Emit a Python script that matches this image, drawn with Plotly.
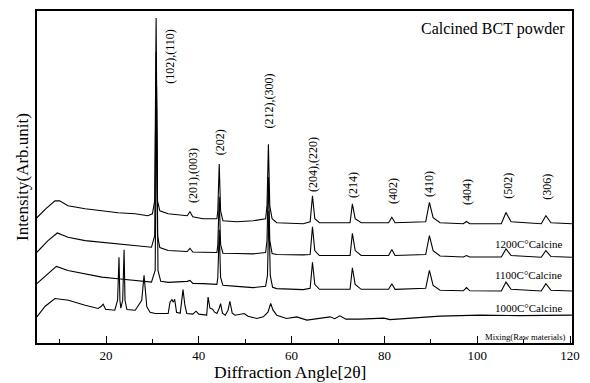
import plotly.graph_objects as go

# ---- data (2θ in degrees, intensity in arbitrary units) ----
top_x = [5.1, 7.0, 9.0, 10.0, 11.8, 15.5, 19.1, 22.6, 26.3, 29.0, 30.0, 30.5, 30.8, 31.1, 31.6, 33.4,
         37.5, 38.1, 38.7, 40.9, 43.9, 44.1, 44.4, 44.7, 45.2, 48.2, 51.7, 54.4, 54.7, 55.0, 55.3, 55.8,
         56.8, 62.5, 64.0, 64.5, 65.0, 66.0, 72.6, 73.1, 73.7, 75.0, 80.9, 81.6, 82.3, 88.9, 89.7, 90.5,
         92.0, 97.0, 97.7, 98.4, 105.2, 106.2, 107.3, 113.8, 114.8, 115.9, 120.4]
top_y = [126, 135, 143, 143, 138, 135, 133, 131, 130, 128, 130, 143, 327, 143, 133, 130,
         128, 132, 127, 125, 125, 133, 180, 133, 123, 122, 123, 125, 138, 200, 138, 125,
         121, 120, 122, 148, 125, 121, 121, 140, 125, 121, 121, 126.5, 121, 122, 141.5, 126,
         121, 120, 122.3, 120, 120, 131.3, 122, 120, 128, 121, 120]

c1200_x = [5.1, 7.5, 9.5, 11.8, 15.5, 19.1, 22.6, 26.3, 29.8, 30.5, 30.8, 31.1, 31.6, 33.4,
           37.5, 38.1, 38.7, 40.9, 43.9, 44.1, 44.4, 44.7, 45.2, 48.2, 51.7, 54.4, 54.7, 55.0, 55.3, 55.8,
           56.8, 62.5, 64.0, 64.5, 65.0, 66.0, 72.6, 73.1, 73.7, 75.0, 80.9, 81.6, 82.3, 88.9, 89.7, 90.5,
           92.0, 97.0, 97.7, 98.4, 105.2, 106.2, 107.3, 113.8, 114.8, 115.9, 120.4]
c1200_y = [91.3, 103, 110.7, 106.3, 103, 101.3, 99.7, 98, 96.3, 108, 293, 108, 96, 93,
           92, 95.3, 91.5, 91.3, 91, 99, 147, 99, 90.3, 90, 89.7, 91, 103, 167, 103, 90,
           89, 88.7, 89, 117, 93, 88, 88, 110.3, 93, 88, 88, 94, 88, 89, 108, 93,
           87.5, 86.5, 88, 86.5, 86.5, 94.7, 88, 86.3, 93, 87, 86.3]

c1100_x = [5.1, 7.5, 9.3, 11.8, 15.5, 19.1, 22.6, 26.3, 29.8, 30.6, 30.9, 31.2, 31.8, 33.4,
           37.5, 38.1, 38.7, 40.9, 43.9, 44.1, 44.4, 44.7, 45.2, 48.2, 51.7, 54.4, 54.8, 55.1, 55.4, 55.9,
           56.8, 62.5, 64.0, 64.5, 65.0, 66.0, 72.6, 73.1, 73.7, 75.0, 80.9, 81.6, 82.3, 88.9, 89.7, 90.5,
           92.0, 97.0, 97.7, 98.4, 105.2, 106.2, 107.3, 113.8, 114.8, 115.9, 120.4]
c1100_y = [59.7, 70, 77, 73, 69.7, 66.3, 64.7, 63, 61.3, 73, 258, 73, 62, 61,
           62, 63, 60, 59.7, 59, 66, 114, 66, 58, 57, 55.7, 57, 68, 133, 68, 56,
           54.7, 53.7, 55, 81.3, 59, 54, 54, 75.7, 59, 54, 54, 59.7, 54, 55, 73, 58,
           53, 52.5, 55.7, 52.5, 52.3, 61.3, 54, 52.3, 59.7, 53, 52.3]

raw_x = [5.1, 6.9, 9.0, 11.9, 15.5, 18.3, 19.0, 19.4, 19.9, 21.9, 22.5, 22.8, 23.0, 23.2, 23.6, 23.9,
         24.1, 24.5, 26.3, 27.7, 28.2, 28.4, 28.8, 29.5, 30.6, 33.4, 33.8, 34.2, 34.5, 34.8, 35.2,
         36.0, 36.3, 36.6, 37.0, 37.4, 38.7, 39.4, 40.0, 41.7, 42.0, 42.4, 42.7, 43.0, 43.4, 43.9,
         44.4, 44.7, 45.1, 45.7, 46.3, 46.7, 47.2, 47.8, 49.8, 50.6, 52.5, 53.9, 54.9, 55.5, 56.0,
         56.8, 58.9, 61.1, 63.3, 66.1, 68.3, 69.3, 70.4, 71.7, 74.7, 79.9, 81.2, 92.0, 100.6, 109.2, 120.4]
raw_y = [26.3, 37, 44.7, 43, 38, 34.7, 37, 39, 34, 33, 43, 86.3, 43, 35, 43, 93.7,
         43, 33.7, 33, 43, 68, 58, 36.3, 31, 29.7, 29.7, 41, 43.7, 41, 44, 31,
         30, 43, 53.7, 38, 29.7, 29, 32, 29, 28, 46.3, 35, 34.5, 34, 31, 29.7,
         35, 39.7, 30, 28, 33, 42, 30, 28, 29.7, 27, 24.7, 26.3, 31, 39.7, 33,
         28, 24.7, 26.3, 23, 24.5, 26.3, 24.5, 27.3, 24, 24, 25, 23.5, 27, 28, 27.5, 28]

series = [(top_x, top_y), (c1200_x, c1200_y), (c1100_x, c1100_y), (raw_x, raw_y)]

hkl_labels = ["(102),(110)", "(201),(003)", "(202)", "(212),(300)", "(204),(220)", "(214)",
              "(402)", "(410)", "(404)", "(502)", "(306)"]
hkl_angles = [33.8, 38.75, 44.57, 55.13, 64.6, 73.23, 81.85, 89.6, 97.8, 106.6, 115.0]
hkl_levels = [288, 168, 202, 243, 180, 159, 153, 160, 152, 158, 157]

curve_labels = ["1200C°Calcine", "1100C°Calcine", "1000C°Calcine", "Mixing(Raw materials)"]
curve_label_levels = [100, 68, 35, 6]

tick_vals = [20, 40, 60, 80, 100, 120]

SERIF = "Liberation Serif, Times New Roman, serif"

fig = go.Figure()
for xs, ys in series:
    fig.add_trace(go.Scatter(x=xs, y=ys, mode="lines",
                             line=dict(color="black", width=1.1), showlegend=False,
                             hoverinfo="skip"))

ann = []
for lab, ang, lev in zip(hkl_labels, hkl_angles, hkl_levels):
    ann.append(dict(x=ang, y=lev, xref="x", yref="y", text=lab, showarrow=False,
                    textangle=-90, font=dict(family=SERIF, size=12, color="black")))
for i, (lab, lev) in enumerate(zip(curve_labels, curve_label_levels)):
    ann.append(dict(x=111.0 if i < 3 else 110.3, y=lev, xref="x", yref="y", text=lab,
                    showarrow=False,
                    font=dict(family=SERIF, size=11 if i < 3 else 8.6, color="black")))
ann.append(dict(x=0.991, y=0.946, xref="paper", yref="paper", text="Calcined BCT powder",
                xanchor="right", yanchor="middle", showarrow=False,
                font=dict(family=SERIF, size=16, color="black")))
ann.append(dict(x=-0.028, y=0.5, xref="paper", yref="paper", text="Intensity(Arb.unit)",
                textangle=-90, xanchor="center", yanchor="middle", showarrow=False,
                font=dict(family=SERIF, size=17, color="black")))
ann.append(dict(x=0.473, y=-0.088, xref="paper", yref="paper", text="Diffraction Angle[2θ]",
                xanchor="center", yanchor="middle", showarrow=False,
                font=dict(family=SERIF, size=17.5, color="black")))

fig.update_layout(
    width=590, height=383,
    margin=dict(l=37, r=18, t=9, b=40),
    paper_bgcolor="white", plot_bgcolor="white",
    annotations=ann,
    xaxis=dict(range=[5.13, 120.43], tickvals=tick_vals, ticks="inside", ticklen=7,
               tickwidth=1.3, tickcolor="black",
               minor=dict(dtick=10, tick0=0, ticks="inside", ticklen=4, tickcolor="black", tickwidth=1),
               showgrid=False, zeroline=False, showline=True, linecolor="black", linewidth=1.6,
               mirror=True, tickfont=dict(family=SERIF, size=13, color="black")),
    yaxis=dict(range=[0, 334], showticklabels=False, ticks="", showgrid=False, zeroline=False,
               showline=True, linecolor="black", linewidth=1.6, mirror=True),
)

fig.write_html("out.html", config={"displayModeBar": False},
               post_script="document.body.style.margin='0';document.body.style.overflow='hidden';")
